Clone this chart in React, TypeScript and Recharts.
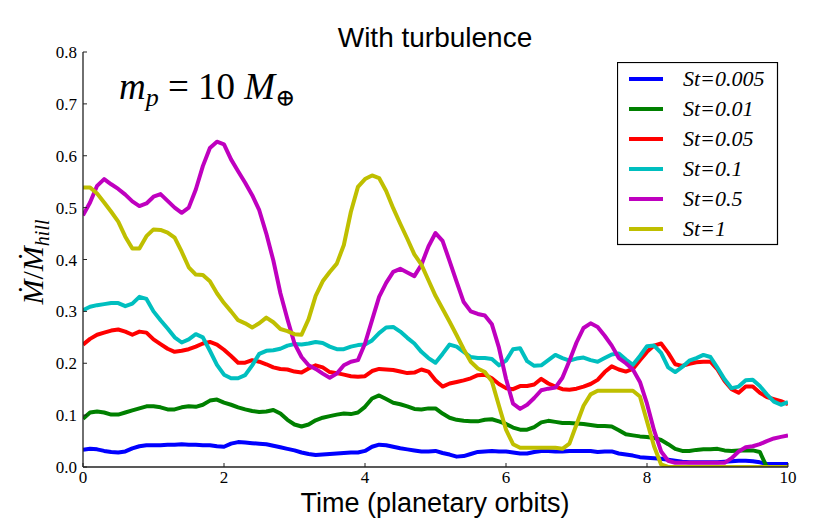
import React from 'react';
import { Legend, Line, LineChart, XAxis, YAxis } from 'recharts';

// time in planetary orbits
const TIME = [
  0, 0.1, 0.2, 0.3, 0.4, 0.5, 0.6, 0.7, 0.8, 0.9,
  1, 1.1, 1.2, 1.3, 1.4, 1.5, 1.6, 1.7, 1.8, 1.9,
  2, 2.1, 2.2, 2.3, 2.4, 2.5, 2.6, 2.7, 2.8, 2.9,
  3, 3.1, 3.2, 3.3, 3.4, 3.5, 3.6, 3.7, 3.8, 3.9,
  4, 4.1, 4.2, 4.3, 4.4, 4.5, 4.6, 4.7, 4.8, 4.9,
  5, 5.1, 5.2, 5.3, 5.4, 5.5, 5.6, 5.7, 5.8, 5.9,
  6, 6.1, 6.2, 6.3, 6.4, 6.5, 6.6, 6.7, 6.8, 6.9,
  7, 7.1, 7.2, 7.3, 7.4, 7.5, 7.6, 7.7, 7.8, 7.9,
  8, 8.1, 8.2, 8.3, 8.4, 8.5, 8.6, 8.7, 8.8, 8.9,
  9, 9.1, 9.2, 9.3, 9.4, 9.5, 9.6, 9.7, 9.8, 9.9,
  10,
];

const ST_0005 = [
  0.033, 0.035, 0.034, 0.031, 0.029, 0.028, 0.03, 0.036, 0.04, 0.042,
  0.042, 0.042, 0.043, 0.043, 0.044, 0.043, 0.043, 0.042, 0.042, 0.04,
  0.039, 0.045, 0.048, 0.047, 0.046, 0.045, 0.044, 0.041, 0.038, 0.035,
  0.032, 0.028, 0.025, 0.023, 0.024, 0.025, 0.026, 0.027, 0.028, 0.028,
  0.031, 0.039, 0.043, 0.042, 0.039, 0.036, 0.034, 0.032, 0.03, 0.03,
  0.031, 0.027, 0.024, 0.02, 0.021, 0.025, 0.029, 0.03, 0.031, 0.03,
  0.03, 0.028, 0.026, 0.026, 0.029, 0.031, 0.031, 0.03, 0.03, 0.031,
  0.031, 0.031, 0.031, 0.029, 0.03, 0.03, 0.026, 0.024, 0.022, 0.019,
  0.018, 0.017, 0.016, 0.014, 0.012, 0.01, 0.009, 0.009, 0.009, 0.009,
  0.009, 0.01, 0.011, 0.012, 0.012, 0.011, 0.009, 0.006, 0.006, 0.006,
  0.006,
];

const ST_001 = [
  0.093, 0.105, 0.107, 0.105, 0.101, 0.101, 0.105, 0.109, 0.113, 0.117,
  0.117, 0.115, 0.111, 0.111, 0.115, 0.117, 0.116, 0.12, 0.128, 0.13,
  0.124, 0.12, 0.115, 0.111, 0.108, 0.106, 0.107, 0.11, 0.103, 0.091,
  0.082, 0.078, 0.082, 0.09, 0.095, 0.098, 0.101, 0.103, 0.102, 0.105,
  0.116, 0.132, 0.138, 0.131, 0.124, 0.121, 0.117, 0.112, 0.111, 0.113,
  0.113, 0.103, 0.095, 0.091, 0.089, 0.088, 0.088, 0.091, 0.092, 0.088,
  0.083, 0.076, 0.072, 0.072, 0.077, 0.086, 0.089, 0.087, 0.085, 0.085,
  0.084, 0.083, 0.081, 0.079, 0.079, 0.078, 0.071, 0.063, 0.061, 0.059,
  0.058, 0.056, 0.052, 0.044, 0.035, 0.031, 0.031, 0.033, 0.034, 0.034,
  0.035, 0.032, 0.031, 0.032, 0.032, 0.032, 0.029, 0, 0, 0,
  0,
];

const ST_005 = [
  0.236, 0.247, 0.255, 0.259, 0.263, 0.265, 0.261, 0.255, 0.261, 0.259,
  0.246, 0.237, 0.228, 0.222, 0.224, 0.227, 0.232, 0.238, 0.241, 0.236,
  0.226, 0.214, 0.201, 0.201, 0.206, 0.203, 0.198, 0.192, 0.189, 0.188,
  0.184, 0.182, 0.19, 0.196, 0.192, 0.183, 0.181, 0.178, 0.175, 0.174,
  0.175, 0.185, 0.189, 0.188, 0.187, 0.184, 0.181, 0.182, 0.188, 0.184,
  0.167, 0.155, 0.161, 0.164, 0.167, 0.171, 0.177, 0.178, 0.171, 0.16,
  0.152, 0.15, 0.156, 0.156, 0.159, 0.17, 0.161, 0.155, 0.15, 0.149,
  0.151, 0.155, 0.16, 0.168, 0.183, 0.194, 0.188, 0.184, 0.189, 0.206,
  0.222, 0.234, 0.238, 0.22, 0.198, 0.195, 0.199, 0.202, 0.203, 0.203,
  0.188, 0.166, 0.15, 0.143, 0.155, 0.155, 0.143, 0.135, 0.131, 0.127,
  0.121,
];

const ST_01 = [
  0.302, 0.309, 0.312, 0.314, 0.316, 0.316, 0.31, 0.315, 0.328, 0.324,
  0.3, 0.283, 0.267, 0.25, 0.24, 0.246, 0.256, 0.25, 0.224, 0.197,
  0.178, 0.171, 0.171, 0.177, 0.196, 0.218, 0.224, 0.225, 0.228, 0.234,
  0.237, 0.236, 0.238, 0.241, 0.239, 0.232, 0.227, 0.227, 0.232, 0.235,
  0.236, 0.244, 0.258, 0.269, 0.27, 0.261, 0.249, 0.238, 0.222, 0.21,
  0.201, 0.218, 0.236, 0.232, 0.222, 0.212, 0.21, 0.21, 0.208, 0.196,
  0.205, 0.227, 0.229, 0.204, 0.195, 0.196, 0.206, 0.216, 0.21, 0.205,
  0.209, 0.211, 0.206, 0.203, 0.21, 0.217, 0.219, 0.207, 0.197, 0.214,
  0.233, 0.234, 0.22, 0.192, 0.183, 0.193, 0.205, 0.21, 0.216, 0.212,
  0.191, 0.169, 0.152, 0.155, 0.167, 0.168, 0.156, 0.14, 0.126, 0.12,
  0.125,
];

const ST_05 = [
  0.485, 0.51, 0.542, 0.555, 0.545, 0.536, 0.525, 0.512, 0.503, 0.508,
  0.521, 0.526, 0.513, 0.5, 0.49, 0.5, 0.535, 0.58, 0.615, 0.627,
  0.622, 0.593, 0.57, 0.548, 0.524, 0.495, 0.45, 0.398, 0.335, 0.285,
  0.238, 0.212, 0.196, 0.189, 0.18, 0.172, 0.18, 0.196, 0.203, 0.206,
  0.238, 0.283, 0.328, 0.355, 0.376, 0.382, 0.375, 0.368, 0.39, 0.425,
  0.451, 0.436, 0.397, 0.357, 0.318, 0.3, 0.295, 0.292, 0.275, 0.23,
  0.17, 0.122, 0.112, 0.12, 0.133, 0.148, 0.151, 0.153, 0.172, 0.205,
  0.24, 0.268, 0.277, 0.27, 0.253, 0.234, 0.21, 0.2, 0.188, 0.164,
  0.122, 0.071, 0.03, 0.012, 0.008, 0.008, 0.008, 0.008, 0.008, 0.008,
  0.008, 0.008, 0.017, 0.03, 0.038, 0.04, 0.044, 0.05, 0.055, 0.058,
  0.061,
];

const ST_1 = [
  0.539, 0.539, 0.527, 0.51, 0.492, 0.473, 0.444, 0.421, 0.421, 0.445,
  0.458, 0.457, 0.452, 0.442, 0.415, 0.385, 0.371, 0.37, 0.358, 0.335,
  0.316, 0.3, 0.283, 0.277, 0.269, 0.277, 0.288, 0.279, 0.266, 0.262,
  0.256, 0.255, 0.285, 0.33, 0.358, 0.376, 0.392, 0.428, 0.492, 0.54,
  0.555, 0.562, 0.557, 0.532, 0.499, 0.469, 0.44, 0.41, 0.39, 0.36,
  0.33, 0.305, 0.28, 0.254, 0.227, 0.203, 0.19, 0.183, 0.165, 0.118,
  0.072, 0.044, 0.037, 0.037, 0.037, 0.037, 0.037, 0.037, 0.035, 0.045,
  0.082, 0.118, 0.14, 0.147, 0.147, 0.147, 0.147, 0.147, 0.147, 0.136,
  0.088, 0.04, 0.005, 0, 0, 0, 0, 0, 0, 0,
  0, 0, 0, 0, 0, 0, 0, 0, 0, 0,
  0,
];

const X_TICKS = [0, 2, 4, 6, 8, 10];
const Y_TICKS = [0, 0.1, 0.2, 0.3, 0.4, 0.5, 0.6, 0.7, 0.8];

const SERIES = [
  { key: 'st0005', name: 'St=0.005', color: '#0000ff', values: ST_0005 },
  { key: 'st001', name: 'St=0.01', color: '#008000', values: ST_001 },
  { key: 'st005', name: 'St=0.05', color: '#ff0000', values: ST_005 },
  { key: 'st01', name: 'St=0.1', color: '#00bfbf', values: ST_01 },
  { key: 'st05', name: 'St=0.5', color: '#bf00bf', values: ST_05 },
  { key: 'st1', name: 'St=1', color: '#bfbf00', values: ST_1 },
];

const rows = TIME.map((t, i) => {
  const row: { [k: string]: number } = { t };
  SERIES.forEach((s) => {
    row[s.key] = s.values[i];
  });
  return row;
});

const SERIF = '"Liberation Serif", "DejaVu Serif", serif';
const SANS = '"Liberation Sans", Arial, sans-serif';
const FRAME = { stroke: '#222', strokeWidth: 1.3 };
const TICK_LINE = { stroke: '#222', strokeWidth: 1 };
const tickFont = { fill: '#000', fontSize: 17, fontFamily: SERIF };

const renderLegend = () => (
  <svg width={162} height={184} style={{ display: 'block' }}>
    <rect x={0.5} y={0.5} width={160} height={182} fill="#fff" stroke="#000" strokeWidth={1.2} />
    {SERIES.map((s, i) => (
      <g key={s.key}>
        <line x1={12} x2={46} y1={17 + i * 30} y2={17 + i * 30} stroke={s.color} strokeWidth={4} />
        <text x={66} y={24 + i * 30} fontFamily={SERIF} fontStyle="italic" fontSize={22} fill="#000">
          {s.name}
        </text>
      </g>
    ))}
  </svg>
);

export default function App() {
  return (
    <div style={{ position: 'absolute', left: 0, top: 0, width: 830, height: 519, background: '#fff' }}>
      <LineChart width={830} height={519} data={rows} margin={{ top: 52, right: 42, bottom: 0, left: 0 }}>
        <XAxis
          xAxisId="bottom"
          dataKey="t"
          type="number"
          domain={[0, 10]}
          ticks={X_TICKS}
          interval={0}
          height={52}
          tickSize={-4}
          tickMargin={8}
          tick={tickFont}
          axisLine={FRAME}
          tickLine={TICK_LINE}
          allowDataOverflow
        />
        <XAxis
          xAxisId="top"
          orientation="top"
          dataKey="t"
          type="number"
          domain={[0, 10]}
          ticks={X_TICKS}
          interval={0}
          height={0}
          tickSize={-4}
          tick={false}
          axisLine={FRAME}
          tickLine={TICK_LINE}
          allowDataOverflow
        />
        <YAxis
          yAxisId="left"
          type="number"
          domain={[0, 0.8]}
          ticks={Y_TICKS}
          interval={0}
          width={83}
          tickSize={-4}
          tickMargin={10}
          tick={tickFont}
          tickFormatter={(v: number) => v.toFixed(1)}
          axisLine={FRAME}
          tickLine={TICK_LINE}
          allowDataOverflow
        />
        <YAxis
          yAxisId="right"
          orientation="right"
          type="number"
          domain={[0, 0.8]}
          ticks={Y_TICKS}
          interval={0}
          width={0}
          tickSize={-4}
          tick={false}
          axisLine={FRAME}
          tickLine={TICK_LINE}
          allowDataOverflow
        />
        {SERIES.map((s) => (
          <Line
            key={s.key}
            xAxisId="bottom"
            yAxisId="left"
            type="linear"
            dataKey={s.key}
            name={s.name}
            stroke={s.color}
            strokeWidth={4}
            strokeLinejoin="round"
            dot={false}
            activeDot={false}
            isAnimationActive={false}
          />
        ))}
        <Legend
          layout="horizontal"
          verticalAlign="middle"
          content={renderLegend}
          wrapperStyle={{ position: 'absolute', left: 617, top: 62, width: 162, height: 184 }}
        />
      </LineChart>
      <svg
        width={830}
        height={519}
        style={{ position: 'absolute', left: 0, top: 0, pointerEvents: 'none' }}
      >
        <text x={435} y={47} textAnchor="middle" fontFamily={SANS} fontSize={28} fill="#000">
          With turbulence
        </text>
        <text x={435} y={512} textAnchor="middle" fontFamily={SANS} fontSize={27} fill="#000">
          Time (planetary orbits)
        </text>
        <text transform="translate(43,262) rotate(-90)" textAnchor="middle" fontFamily={SERIF} fontSize={30} fill="#000">
          <tspan fontStyle="italic">Ṁ</tspan>
          <tspan>/</tspan>
          <tspan fontStyle="italic">Ṁ</tspan>
          <tspan fontStyle="italic" fontSize={20} dy={6}>hill</tspan>
        </text>
        <text x={119} y={99} fontFamily={SERIF} fontSize={37} fill="#000">
          <tspan fontStyle="italic">m</tspan>
          <tspan fontStyle="italic" fontSize={26} dy={7}>p</tspan>
          <tspan dy={-7}> = 10 </tspan>
          <tspan fontStyle="italic">M</tspan>
          <tspan fontSize={24} dy={7}>⊕</tspan>
        </text>
      </svg>
    </div>
  );
}
